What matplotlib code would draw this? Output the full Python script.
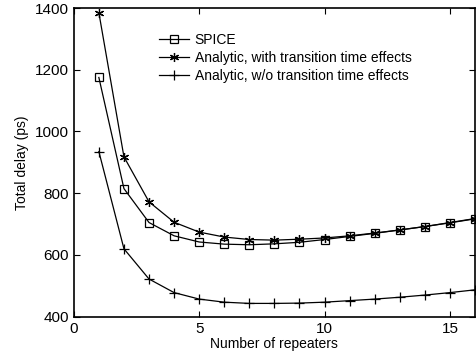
import numpy as np
import matplotlib
matplotlib.use("Agg")
from matplotlib import pyplot as plt

plt.rcParams['font.family'] = ['Liberation Sans', 'DejaVu Sans']

repeaters = np.arange(1, 17)
spice = [1175, 815, 705, 662, 642, 635, 633, 636, 641, 650, 660, 670, 681, 692, 705, 718]
with_tt = [1385, 918, 772, 706, 674, 658, 650, 648, 651, 655, 662, 671, 681, 692, 704, 717]
without_tt = [935, 620, 522, 478, 457, 447, 443, 443, 444, 447, 452, 457, 463, 470, 478, 487]

fig, ax = plt.subplots(figsize=(4.76, 3.64), dpi=100)
fig.subplots_adjust(left=0.155, right=0.998, top=0.978, bottom=0.13)

ax.plot(repeaters, spice, color='black', lw=0.9, marker='s', ms=5.2,
        mfc='none', mew=0.9, label='SPICE')
ax.plot(repeaters, with_tt, color='black', lw=0.9, marker=(6, 2, 0), ms=6.5,
        mew=0.9, label='Analytic, with transition time effects')
ax.plot(repeaters, without_tt, color='black', lw=0.9, marker='+', ms=7,
        mew=0.9, label='Analytic, w/o transition time effects')

ax.set_xlim(0, 16)
ax.set_ylim(400, 1400)
ax.set_xticks([0, 5, 10, 15])
ax.set_yticks([400, 600, 800, 1000, 1200, 1400])
ax.tick_params(direction='in', top=True, right=True, labelsize=11, length=4)
for s in ax.spines.values():
    s.set_linewidth(1.2)

ax.set_xlabel('Number of repeaters', fontsize=10, labelpad=1)
ax.set_ylabel('Total delay (ps)', fontsize=10)

ax.legend(loc='upper left', bbox_to_anchor=(0.18, 0.96), frameon=False,
          fontsize=10, handlelength=2.2, handletextpad=0.4, labelspacing=0.3)

fig.savefig('out.png')
